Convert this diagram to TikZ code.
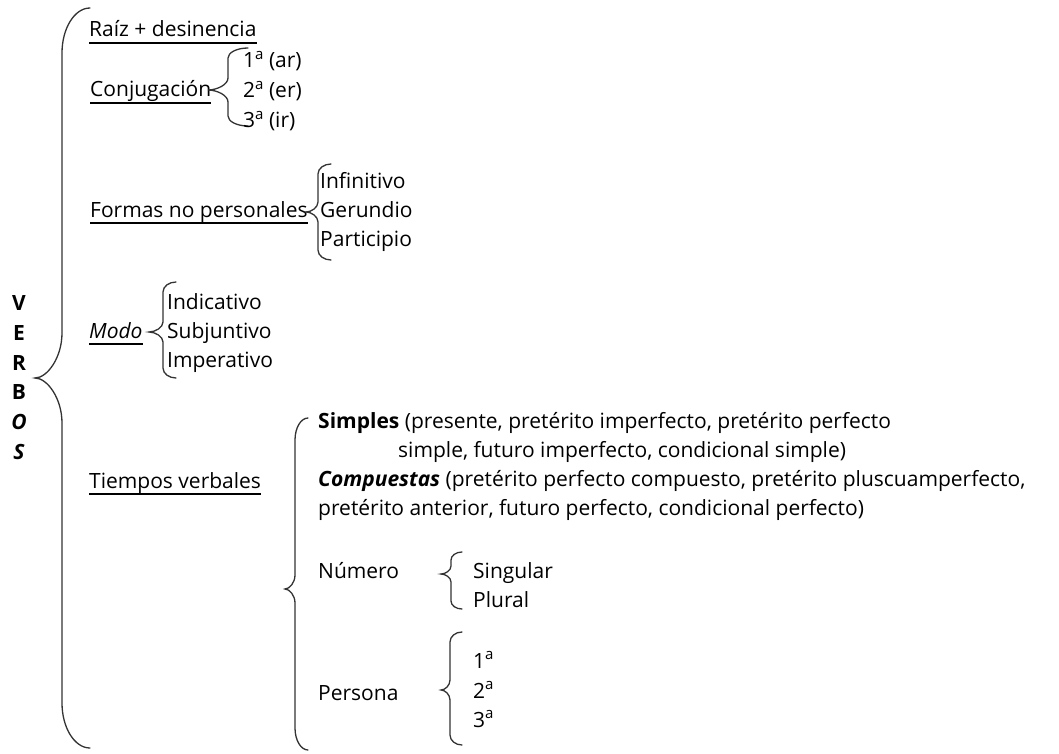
\documentclass[tikz,border=0pt]{standalone}
\usepackage{fontspec}
\setmainfont{Open Sans}
\newcommand{\mybrace}[8]{%
 \pgfmathsetmacro\bxa{#2+(#1-#2)*0.45}%
 \pgfmathsetmacro\bxb{#3+(#2-#3)*0.45}%
 \pgfmathsetmacro\byA{#4+#7}%
 \pgfmathsetmacro\byAc{#4+#7*0.45}%
 \pgfmathsetmacro\byB{#5-#8}%
 \pgfmathsetmacro\byBc{#5-#8*0.45}%
 \pgfmathsetmacro\byC{#5+#8}%
 \pgfmathsetmacro\byCc{#5+#8*0.45}%
 \pgfmathsetmacro\byD{#6-#7}%
 \pgfmathsetmacro\byDc{#6-#7*0.45}%
 \draw[bracestyle] (#1,#4) .. controls (\bxa,#4) and (#2,\byAc) .. (#2,\byA) -- (#2,\byB) .. controls (#2,\byBc) and (\bxb,#5) .. (#3,#5) .. controls (\bxb,#5) and (#2,\byCc) .. (#2,\byC) -- (#2,\byD) .. controls (#2,\byDc) and (\bxa,#6) .. (#1,#6);%
}
\newcommand{\ordA}{\raisebox{0.72ex}{\fontsize{15}{15}\selectfont a}}
\begin{document}
\begin{tikzpicture}[x=1pt,y=-1pt,
  lbl/.style={anchor=base west, inner sep=0pt, font=\fontsize{21}{24}\selectfont, text=black},
  vlet/.style={anchor=base, inner sep=0pt, font=\fontsize{21}{24}\selectfont\bfseries, text=black},
  ulstyle/.style={line width=2.1pt, black},
  bracestyle/.style={line width=1.3pt, black!80, line cap=round}]
\useasboundingbox (0,0) rectangle (1059,754);
% VERBOS
\node[vlet] (v1) at (19,310) {V};
\node[vlet] (v2) at (19,340) {E};
\node[vlet] (v3) at (19,370) {R};
\node[vlet] (v4) at (19,399) {B};
\node[vlet] (v5) at (19,429) {\itshape O};
\node[vlet] (v6) at (19,459) {\itshape S};
\mybrace{90}{62}{35}{8}{378}{748}{45}{45}
% level 1
\node[lbl] (raiz) at (89,37) {Raíz + desinencia};
\node[lbl] (conj) at (90,97) {Conjugación};
\node[lbl] (formas) at (90,217) {Formas no personales};
\node[lbl] (modo) at (89,338) {\itshape Modo};
\node[lbl] (tiempos) at (89,488) {Tiempos verbales};
\foreach \n in {raiz,conj,formas,modo,tiempos}
  \draw[ulstyle] ([yshift=-6pt]\n.base west) -- ([yshift=-6pt]\n.base east);
% conjugacion
\mybrace{248}{228}{208}{48}{90}{126}{10}{12}
\node[lbl] (c1) at (243,68) {1\ordA{} (ar)};
\node[lbl] (c2) at (243,98) {2\ordA{} (er)};
\node[lbl] (c3) at (243,128) {3\ordA{} (ir)};
% formas
\mybrace{331}{318}{306}{164}{212}{260}{10}{10}
\node[lbl] (f1) at (320,188) {Infinitivo};
\node[lbl] (f2) at (320,217) {Gerundio};
\node[lbl] (f3) at (320,246) {Participio};
% modo
\mybrace{176}{163}{149}{282}{332}{378}{10}{10}
\node[lbl] (m1) at (167,309) {Indicativo};
\node[lbl] (m2) at (167,338) {Subjuntivo};
\node[lbl] (m3) at (167,367) {Imperativo};
% tiempos
\mybrace{308}{295}{285}{418}{589}{750}{22}{14}
\node[lbl] (s1) at (318,428) {\textbf{Simples} (presente, pretérito imperfecto, pretérito perfecto};
\node[lbl] (s2) at (398,457) {simple, futuro imperfecto, condicional simple)};
\node[lbl] (p1) at (318,486) {\textbf{\itshape Compuestas} (pretérito perfecto compuesto, pretérito pluscuamperfecto,};
\node[lbl] (p2) at (318,515) {pretérito anterior, futuro perfecto, condicional perfecto)};
\node[lbl] (num) at (318,578) {Número};
\mybrace{462}{451}{441}{552}{574}{609}{8}{8}
\node[lbl] (n1) at (473,578) {Singular};
\node[lbl] (n2) at (473,607) {Plural};
\node[lbl] (per) at (318,700) {Persona};
\mybrace{462}{450}{441}{632}{690}{745}{10}{10}
\node[lbl] (e1) at (473,668) {1\ordA};
\node[lbl] (e2) at (473,698) {2\ordA};
\node[lbl] (e3) at (473,727) {3\ordA};
\end{tikzpicture}
\end{document}
